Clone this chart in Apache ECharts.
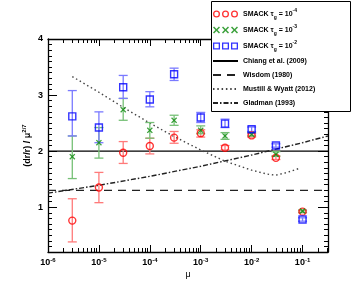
<!DOCTYPE html>
<html><head><meta charset="utf-8">
<script src="https://cdn.jsdelivr.net/npm/echarts@6/dist/echarts.min.js"></script>
<style>html,body{margin:0;padding:0;background:#fff}#c{width:356px;height:285px}</style>
</head><body><div id="c"></div>
<script>
// ---------- data ----------
const mu = [3e-6, 1e-5, 3e-5, 1e-4, 3e-4, 1e-3, 3e-3, 1e-2, 3e-2, 1e-1];
const tau4   = [0.76, 1.35, 1.97, 2.09, 2.24, 2.32, 2.06, 2.28, 1.88, 0.92];
const tau4Lo = [0.38, 1.08, 1.78, 1.95, 2.14, 2.25, 2.02, 2.25, 1.85, 0.90];
const tau4Hi = [1.15, 1.62, 2.17, 2.23, 2.35, 2.38, 2.10, 2.31, 1.91, 0.94];
const tau3   = [1.90, 2.15, 2.74, 2.37, 2.55, 2.37, 2.27, 2.30, 1.94, 0.93];
const tau3Lo = [1.51, 1.875, 2.55, 2.23, 2.46, 2.31, 2.21, 2.27, 1.91, 0.91];
const tau3Hi = [2.27, 2.42, 2.94, 2.51, 2.64, 2.45, 2.33, 2.33, 1.99, 0.95];
const tau2   = [2.62, 2.42, 3.14, 2.92, 3.37, 2.60, 2.49, 2.39, 2.10, 0.78];
const tau2Lo = [2.27, 2.15, 2.94, 2.79, 3.26, 2.51, 2.42, 2.35, 2.07, 0.75];
const tau2Hi = [3.08, 2.70, 3.35, 3.06, 3.48, 2.69, 2.57, 2.43, 2.13, 0.81];

const chiangMu = [1e-6, 0.3162];
const chiangVal = [2.0, 2.0];
const wisdomMu = [1e-6, 0.3162];
const wisdomVal = [1.3, 1.3];
const mustillMu = [3e-6, 1e-5, 3e-5, 1e-4, 3e-4, 1e-3, 3e-3, 1e-2, 2e-2, 3e-2, 5e-2, 8.5e-2];
const mustillVal = [3.33, 3.05, 2.78, 2.50, 2.26, 2.02, 1.82, 1.66, 1.59, 1.57, 1.62, 1.69];
const gladmanMu = [1e-6, 1e-5, 1e-4, 1e-3, 1e-2, 1e-1, 0.3162];
const gladmanVal = [1.25, 1.39, 1.55, 1.73, 1.93, 2.15, 2.27];

const xTicks = [1e-6, 1e-5, 1e-4, 1e-3, 1e-2, 1e-1];
const xTickExp = ['-6', '-5', '-4', '-3', '-2', '-1'];
const yTicks = [1, 2, 3, 4];

const names = ['SMACK τg = 10-4', 'SMACK τg = 10-3', 'SMACK τg = 10-2',
  'Chiang et al. (2009)', 'Wisdom (1980)', 'Mustill & Wyatt (2012)', 'Gladman (1993)'];

// ---------- helpers ----------
const FONT = 'Liberation Sans';
const X_MIN = 1e-6, X_MAX = 0.31623, Y_MIN = 0.2, Y_MAX = 4;
const xMinor = [];
for (let e = -6; e <= -1; e++) for (let k = 2; k <= 9; k++) { const v = k * Math.pow(10, e); if (v <= X_MAX) xMinor.push(v); }
const yMinor = [];
for (let i = 2; i <= 40; i++) if (i % 10 !== 0) yMinor.push(i / 10);

const zip = (a, b) => a.map((v, i) => [v, b[i]]);
const zip3 = (a, b, c) => a.map((v, i) => [v, b[i], c[i]]);

function errRender(color) {
  return function (params, api) {
    const x = api.value(0), lo = api.value(1), hi = api.value(2);
    const p1 = api.coord([x, lo]), p2 = api.coord([x, hi]);
    const hw = 4.5, st = { stroke: color, lineWidth: 1.3 };
    return { type: 'group', children: [
      { type: 'line', shape: { x1: p1[0], y1: p1[1], x2: p2[0], y2: p2[1] }, style: st },
      { type: 'line', shape: { x1: p1[0] - hw, y1: p1[1], x2: p1[0] + hw, y2: p1[1] }, style: st },
      { type: 'line', shape: { x1: p2[0] - hw, y1: p2[1], x2: p2[0] + hw, y2: p2[1] }, style: st }
    ]};
  };
}

const crossPath = 'path://M0,1.5L1.5,0L5,3.5L8.5,0L10,1.5L6.5,5L10,8.5L8.5,10L5,6.5L1.5,10L0,8.5L3.5,5Z';
function ring(cx) {
  return `M${cx - 3.5},3.5a3.5,3.5 0 1,0 7,0a3.5,3.5 0 1,0 -7,0Z` +
         `M${cx - 2.2},3.5a2.2,2.2 0 1,1 4.4,0a2.2,2.2 0 1,1 -4.4,0Z`;
}
function xs(ox) {
  const p = [[0,1.05],[1.05,0],[3.5,2.45],[5.95,0],[7,1.05],[4.55,3.5],[7,5.95],[5.95,7],[3.5,4.55],[1.05,7],[0,5.95],[2.45,3.5]];
  return 'M' + p.map(q => (q[0] + ox) + ',' + q[1]).join('L') + 'Z';
}
function sq(ox) {
  return `M${ox},0L${ox + 7},0L${ox + 7},7L${ox},7Z` +
         `M${ox + 1.3},1.3L${ox + 1.3},5.7L${ox + 5.7},5.7L${ox + 5.7},1.3Z`;
}
const iconRing = 'path://' + ring(3.5) + ring(12.5) + ring(21.5);
const iconX = 'path://' + xs(0) + xs(9) + xs(18);
const iconSq = 'path://' + sq(0) + sq(9) + sq(18);

const legendRich = {
  'SMACK τg = 10-4': '{b|SMACK τ}{sub|g}{b| = 10}{sup|-4}',
  'SMACK τg = 10-3': '{b|SMACK τ}{sub|g}{b| = 10}{sup|-3}',
  'SMACK τg = 10-2': '{b|SMACK τ}{sub|g}{b| = 10}{sup|-2}'
};

function mkX(pos, major, showLine) {
  return {
    type: 'log', logBase: 10, min: X_MIN, max: X_MAX, position: pos, gridIndex: 0,
    axisLine: { show: showLine, onZero: false, lineStyle: { color: '#000', width: 1.3 } },
    axisTick: { show: true, inside: true, length: major ? 7 : 4, customValues: major ? xTicks : xMinor,
      lineStyle: { color: '#000', width: 1 } },
    axisLabel: (major && pos === 'bottom') ? {
      show: true, margin: 5, customValues: xTicks,
      formatter: v => { const i = xTicks.findIndex(t => Math.abs(Math.log10(t) - Math.log10(v)) < 1e-6); return i < 0 ? '' : '{b|10}{s|' + xTickExp[i] + '}'; },
      rich: { b: { fontFamily: FONT, fontWeight: 'bold', fontSize: 9, color: '#000', lineHeight: 12 },
              s: { fontFamily: FONT, fontWeight: 'bold', fontSize: 6, color: '#000', verticalAlign: 'top', lineHeight: 12 } }
    } : { show: false },
    splitLine: { show: false }
  };
}
function mkY(pos, major, showLine) {
  return {
    type: 'value', min: Y_MIN, max: Y_MAX, position: pos, gridIndex: 0,
    axisLine: { show: showLine, onZero: false, lineStyle: { color: '#000', width: 1.3 } },
    axisTick: { show: true, inside: true, length: major ? (pos === 'left' ? 9 : 10) : 4,
      customValues: major ? yTicks : yMinor, lineStyle: { color: '#000', width: 1 } },
    axisLabel: (major && pos === 'left') ? {
      show: true, margin: 5, customValues: yTicks, fontFamily: FONT, fontWeight: 'bold', fontSize: 9, color: '#000'
    } : { show: false },
    splitLine: { show: false }
  };
}

const xAxes = [mkX('bottom', true, true), mkX('bottom', false, false), mkX('top', true, true), mkX('top', false, false)];
xAxes[0].name = 'μ';
xAxes[0].nameLocation = 'middle';
xAxes[0].nameGap = 18;
xAxes[0].nameMoveOverlap = false;
xAxes[0].nameTextStyle = { fontFamily: FONT, fontSize: 9, color: '#000' };
const yAxes = [mkY('left', true, true), mkY('left', false, false), mkY('right', true, true), mkY('right', false, false)];
yAxes[0].name = '{n|(dr/r) / μ}{s|2/7}';
yAxes[0].nameLocation = 'middle';
yAxes[0].nameGap = 14;
yAxes[0].nameMoveOverlap = false;
yAxes[0].nameRotate = 90;
yAxes[0].nameTextStyle = { rich: {
  n: { fontFamily: FONT, fontWeight: 'bold', fontSize: 9, color: '#000', lineHeight: 13 },
  s: { fontFamily: FONT, fontWeight: 'bold', fontSize: 6, color: '#000', verticalAlign: 'top', lineHeight: 13 } } };

const RED = '#ff0000', GREEN = '#0a8a0a', BLUE = '#0000ff';
const base = { xAxisIndex: 0, yAxisIndex: 0, animation: false, silent: true, emphasis: { disabled: true } };

const series = [
  Object.assign({ type: 'line', name: names[3], data: zip(chiangMu, chiangVal), symbol: 'none', z: 3,
    itemStyle: { color: '#000' }, lineStyle: { color: '#000', width: 1.3, type: 'solid' } }, base),
  Object.assign({ type: 'line', name: names[4], data: zip(wisdomMu, wisdomVal), symbol: 'none', z: 3,
    itemStyle: { color: '#222' }, lineStyle: { color: '#222', width: 1.4, type: [8, 6] } }, base),
  Object.assign({ type: 'line', name: names[5], data: zip(mustillMu, mustillVal), symbol: 'none', z: 3,
    itemStyle: { color: '#444' }, lineStyle: { color: '#444', width: 1.4, type: [1.5, 2.8] } }, base),
  Object.assign({ type: 'line', name: names[6], data: zip(gladmanMu, gladmanVal), symbol: 'none', z: 3,
    itemStyle: { color: '#222' }, lineStyle: { color: '#222', width: 1.4, type: [5, 2, 1.5, 2] } }, base),
  Object.assign({ type: 'custom', name: 'err4', data: zip3(mu, tau4Lo, tau4Hi), renderItem: errRender('#ff7a7a'), encode: { x: 0, y: [1, 2] }, z: 4 }, base),
  Object.assign({ type: 'custom', name: 'err3', data: zip3(mu, tau3Lo, tau3Hi), renderItem: errRender('#76c076'), encode: { x: 0, y: [1, 2] }, z: 4 }, base),
  Object.assign({ type: 'custom', name: 'err2', data: zip3(mu, tau2Lo, tau2Hi), renderItem: errRender('#7a7aff'), encode: { x: 0, y: [1, 2] }, z: 4 }, base),
  Object.assign({ type: 'scatter', name: names[0], data: zip(mu, tau4), symbol: 'circle', symbolSize: 7, z: 5,
    itemStyle: { color: 'rgba(255,255,255,0)', borderColor: RED, borderWidth: 1.4 } }, base),
  Object.assign({ type: 'scatter', name: names[1], data: zip(mu, tau3), symbol: crossPath, symbolSize: 6, z: 6,
    itemStyle: { color: GREEN } }, base),
  Object.assign({ type: 'scatter', name: names[2], data: zip(mu, tau2), symbol: 'rect', symbolSize: 7, z: 6,
    itemStyle: { color: 'rgba(255,255,255,0)', borderColor: BLUE, borderWidth: 1.4 } }, base)
];

const chart = echarts.init(document.getElementById('c'), null, { renderer: 'canvas' });
chart.setOption({
  backgroundColor: '#fff',
  animation: false,
  grid: { left: 48, right: 28, top: 39, bottom: 33, containLabel: false },
  xAxis: xAxes,
  yAxis: yAxes,
  graphic: [{ type: 'rect', shape: { x: 211.5, y: 1.5, width: 139, height: 110 },
    style: { fill: '#fff', stroke: '#000', lineWidth: 1 }, z: 9, silent: true }],
  legend: {
    orient: 'vertical', left: 212, top: 8, itemWidth: 25, itemHeight: 7, itemGap: 4, padding: 0,
    selectedMode: false, z: 10,
    formatter: n => legendRich[n] || n,
    textStyle: { fontFamily: FONT, fontWeight: 'bold', fontSize: 7, color: '#000', lineHeight: 10,
      rich: {
        b: { fontFamily: FONT, fontWeight: 'bold', fontSize: 7, color: '#000', lineHeight: 12 },
        sub: { fontFamily: FONT, fontSize: 5, color: '#000', verticalAlign: 'bottom', lineHeight: 12 },
        sup: { fontFamily: FONT, fontWeight: 'bold', fontSize: 5, color: '#000', verticalAlign: 'top', lineHeight: 12 }
      } },
    data: [
      { name: names[0], icon: iconRing, itemStyle: { color: RED, borderWidth: 0 } },
      { name: names[1], icon: iconX, itemStyle: { color: GREEN, borderWidth: 0 } },
      { name: names[2], icon: iconSq, itemStyle: { color: BLUE, borderWidth: 0 } },
      { name: names[3], itemStyle: { opacity: 0 } },
      { name: names[4], itemStyle: { opacity: 0 } },
      { name: names[5], itemStyle: { opacity: 0 } },
      { name: names[6], itemStyle: { opacity: 0 } }
    ]
  },
  series: series
});
</script>
</body></html>
